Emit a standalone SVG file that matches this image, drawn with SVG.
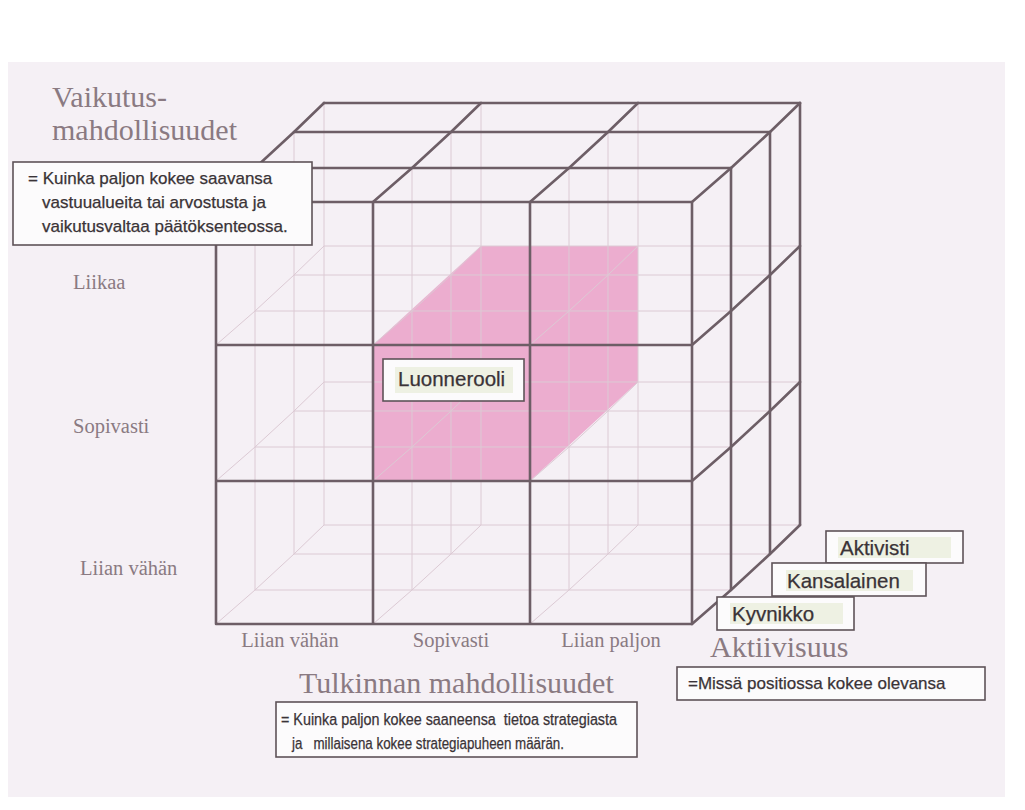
<svg xmlns="http://www.w3.org/2000/svg" xmlns:xlink="http://www.w3.org/1999/xlink" width="1025" height="810" viewBox="0 0 1025 810">
<style>
.faint{fill:none;stroke:#dccad4;stroke-width:1}
.dark{fill:none;stroke:#6d5e66;stroke-width:2.6;stroke-linejoin:round;stroke-linecap:round}
.serif{font-family:"Liberation Serif","Times New Roman",serif;fill:#8a7a82}
.title{font-size:30px}
.axis{font-size:20.5px}
.box{fill:#fcfbfc;stroke:#5e5358;stroke-width:1.6}
.hl{fill:#eef1e3}
.sans{font-family:"Liberation Sans",Arial,sans-serif;fill:#3a3337;stroke:#3a3337;stroke-width:0.25}
.note{font-size:17px}
.small{font-size:16px}
.lab{font-size:20.5px}
</style>
<defs>
<path id="grid" d="M216,202V624M373,202V624M530,202V624M692,202V624M216,202H692M216,345H692M216,481H692M216,624H692"/>
<path id="depth" d="M0,0l39,-34l39,-36l30,-29"/>
</defs>
<rect width="1025" height="810" fill="#ffffff"/>
<rect x="8" y="62" width="997" height="735" fill="#f5f0f5"/>

<g id="cube">
  <polygon id="luonnerooli-block" points="373,345 481,246 638,246 638,382 530,481 373,481" fill="#eba5cb" opacity="0.9"/>
  <g class="faint">
    <use xlink:href="#grid" transform="translate(39,-34)"/>
    <use xlink:href="#grid" transform="translate(78,-70)"/>
    <use xlink:href="#grid" transform="translate(108,-99)"/>
    <use xlink:href="#depth" x="216" y="345"/>
    <use xlink:href="#depth" x="216" y="481"/>
    <use xlink:href="#depth" x="216" y="624"/>
    <use xlink:href="#depth" x="373" y="345"/>
    <use xlink:href="#depth" x="373" y="481"/>
    <use xlink:href="#depth" x="373" y="624"/>
    <use xlink:href="#depth" x="530" y="345"/>
    <use xlink:href="#depth" x="530" y="481"/>
    <use xlink:href="#depth" x="530" y="624"/>
  </g>
  <g class="dark">
    <use xlink:href="#grid"/>
    <path d="M255,168H731M294,132H770M324,103H800"/>
    <path d="M731,168V590M770,132V554M800,103V525"/>
    <use xlink:href="#depth" x="216" y="202"/>
    <use xlink:href="#depth" x="373" y="202"/>
    <use xlink:href="#depth" x="530" y="202"/>
    <use xlink:href="#depth" x="692" y="202"/>
    <use xlink:href="#depth" x="692" y="345"/>
    <use xlink:href="#depth" x="692" y="481"/>
    <use xlink:href="#depth" x="692" y="624"/>
  </g>
</g>

<g id="axis-vaikutus">
  <text class="serif title" x="52" y="107">Vaikutus-</text>
  <text class="serif title" x="52" y="140">mahdollisuudet</text>
</g>
<g id="note-vaikutus">
  <rect class="box" x="13" y="162" width="299" height="83"/>
  <text class="sans note" x="28" y="184">= Kuinka paljon kokee saavansa</text>
  <text class="sans note" x="42" y="208">vastuualueita tai arvostusta ja</text>
  <text class="sans note" x="42" y="232">vaikutusvaltaa päätöksenteossa.</text>
</g>
<g id="row-labels">
  <text class="serif axis" x="73" y="289">Liikaa</text>
  <text class="serif axis" x="73" y="433">Sopivasti</text>
  <text class="serif axis" x="80" y="575">Liian vähän</text>
</g>
<g id="col-labels">
  <text class="serif axis" x="290" y="647" text-anchor="middle">Liian vähän</text>
  <text class="serif axis" x="451" y="647" text-anchor="middle">Sopivasti</text>
  <text class="serif axis" x="611" y="647" text-anchor="middle">Liian paljon</text>
</g>
<g id="node-luonnerooli">
  <rect class="box" x="383" y="359" width="141" height="42"/>
  <rect class="hl" x="395" y="367" width="118" height="26"/>
  <text class="sans lab" x="398" y="386">Luonnerooli</text>
</g>
<g id="node-aktivisti">
  <rect class="box" x="826" y="531" width="137" height="32"/>
  <rect class="hl" x="838" y="537" width="113" height="21"/>
  <text class="sans lab" x="840" y="555">Aktivisti</text>
</g>
<g id="node-kansalainen">
  <rect class="box" x="772" y="563" width="154" height="33"/>
  <rect class="hl" x="786" y="570" width="127" height="21"/>
  <text class="sans lab" x="787" y="588">Kansalainen</text>
</g>
<g id="node-kyynikko">
  <rect class="box" x="717" y="597" width="137" height="33"/>
  <rect class="hl" x="730" y="603" width="113" height="21"/>
  <text class="sans lab" x="732" y="621">Kyvnikko</text>
</g>
<g id="axis-aktiivisuus">
  <text class="serif title" x="710" y="657">Aktiivisuus</text>
</g>
<g id="note-aktiivisuus">
  <rect class="box" x="677" y="667" width="308" height="33"/>
  <text class="sans note" x="688" y="689">=Missä positiossa kokee olevansa</text>
</g>
<g id="axis-tulkinta">
  <text class="serif title" x="299" y="693">Tulkinnan mahdollisuudet</text>
</g>
<g id="note-tulkinta">
  <rect class="box" x="276" y="702" width="361" height="55"/>
  <text class="sans small" x="281" y="725" xml:space="preserve" textLength="336" lengthAdjust="spacingAndGlyphs">= Kuinka paljon kokee saaneensa  tietoa strategiasta</text>
  <text class="sans small" x="292" y="749" xml:space="preserve" textLength="272" lengthAdjust="spacingAndGlyphs">ja   millaisena kokee strategiapuheen määrän.</text>
</g>
<g id="connectors"></g>
</svg>
